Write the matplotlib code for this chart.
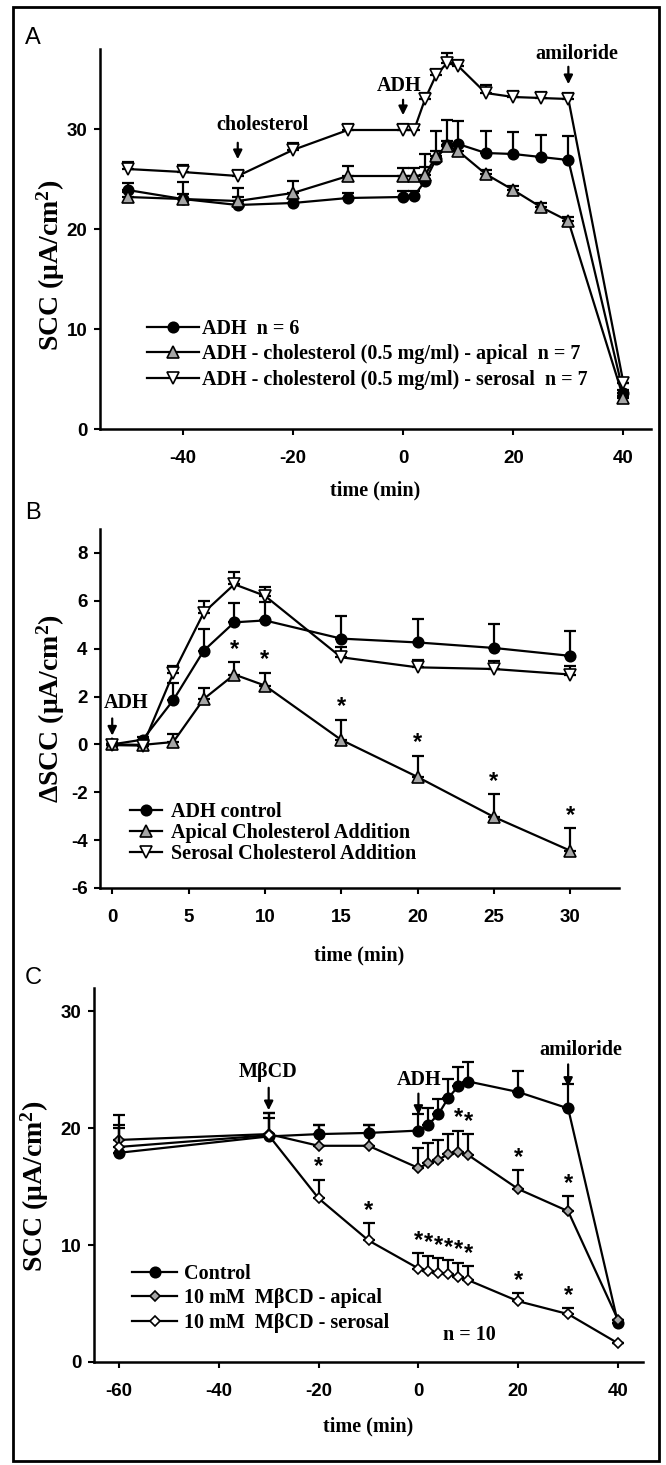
import matplotlib
matplotlib.use("Agg")
import matplotlib.pyplot as plt
from matplotlib.patches import Rectangle
from matplotlib.lines import Line2D

# ---- panel A data (SCC, uA/cm2) ----
tA = [-50, -40, -30, -20, -10, 0, 2, 4, 6, 8, 10, 15, 20, 25, 30, 40]
adhA = [23.9, 23.0, 22.4, 22.6, 23.1, 23.2, 23.3, 24.8, 27.0, 28.4, 28.5, 27.6, 27.5, 27.2, 26.9, 3.6]
adhA_err = [0.7, 1.7, 1.7, 0.5, 0.5, 0.6, 0.5, 2.7, 2.8, 2.5, 2.3, 2.2, 2.2, 2.2, 2.4, 0.3]
apiA = [23.2, 23.0, 22.8, 23.6, 25.3, 25.3, 25.3, 25.4, 27.3, 28.3, 27.8, 25.5, 23.9, 22.2, 20.8, 3.1]
apiA_err = [0.5, 0.5, 0.4, 1.2, 1.0, 0.8, 0.8, 0.8, 0.5, 0.5, 0.5, 0.4, 0.4, 0.4, 0.4, 0.2]
serA = [26.0, 25.7, 25.3, 27.9, 29.9, 29.9, 29.9, 33.0, 35.4, 36.6, 36.3, 33.6, 33.2, 33.1, 33.0, 4.6]
serA_err = [0.7, 0.7, 0.6, 0.7, 0.6, 0.6, 0.5, 0.6, 0.6, 1.0, 0.6, 0.8, 0.6, 0.6, 0.6, 0.0]

# ---- panel B data (delta SCC) ----
tB = [0, 2, 4, 6, 8, 10, 15, 20, 25, 30]
adhB = [0.0, 0.2, 1.85, 3.92, 5.1, 5.18, 4.42, 4.26, 4.03, 3.70]
adhB_err = [0.0, 0.1, 0.7, 0.92, 0.8, 0.75, 0.95, 0.98, 1.0, 1.03]
apiB = [0.0, -0.02, 0.1, 1.9, 2.92, 2.46, 0.19, -1.36, -3.03, -4.44]
apiB_err = [0.0, 0.0, 0.35, 0.46, 0.51, 0.53, 0.84, 0.89, 0.95, 0.93]
serB = [-0.03, -0.05, 2.97, 5.51, 6.69, 6.21, 3.64, 3.22, 3.15, 2.92]
serB_err = [0.0, 0.0, 0.3, 0.49, 0.53, 0.35, 0.44, 0.31, 0.32, 0.37]
starsB = [8, 10, 15, 20, 25, 30]

# ---- panel C data (SCC, MbCD) ----
tC = [-60, -30, -20, -10, 0, 2, 4, 6, 8, 10, 20, 30, 40]
ctlC = [17.9, 19.3, 19.5, 19.6, 19.8, 20.3, 21.2, 22.6, 23.6, 24.0, 23.1, 21.7, 3.3]
ctlC_err = [2.4, 2.0, 0.8, 0.7, 1.4, 1.4, 1.3, 1.6, 1.6, 1.7, 1.8, 2.1, 0.0]
apiC = [19.0, 19.5, 18.5, 18.5, 16.6, 17.0, 17.3, 17.8, 18.0, 17.7, 14.8, 12.9, 3.6]
apiC_err = [2.1, 1.8, 1.8, 1.8, 1.7, 1.7, 1.7, 1.7, 1.8, 1.8, 1.6, 1.3, 0.0]
serC = [18.4, 19.4, 14.0, 10.4, 8.0, 7.8, 7.6, 7.5, 7.3, 7.0, 5.2, 4.1, 1.6]
serC_err = [1.6, 1.5, 1.6, 1.5, 1.3, 1.3, 1.3, 1.2, 1.2, 1.2, 0.7, 0.5, 0.0]
starsC_api = [8, 10, 20, 30]
starsC_ser = [-20, -10, 0, 2, 4, 6, 8, 10, 20, 30]

SERIF = ["Liberation Serif", "DejaVu Serif"]
SANS = ["Liberation Sans", "DejaVu Sans"]
plt.rcParams["font.family"] = SANS
plt.rcParams["axes.unicode_minus"] = False
plt.rcParams["mathtext.fontset"] = "custom"
plt.rcParams["mathtext.rm"] = "Liberation Serif:bold"
plt.rcParams["mathtext.it"] = "Liberation Serif:bold"
plt.rcParams["mathtext.bf"] = "Liberation Serif:bold"

W, H = 666, 1465
fig = plt.figure(figsize=(W / 100, H / 100), dpi=100)


def add_ax(l, r, t, b):
    return fig.add_axes([l / W, 1 - b / H, (r - l) / W, (b - t) / H])


def style(ax):
    for s in ("top", "right"):
        ax.spines[s].set_visible(False)
    for s in ("left", "bottom"):
        ax.spines[s].set_linewidth(1.8)
    ax.tick_params(direction="out", length=4, width=1.5, labelsize=13.5)
    ax.tick_params(axis="x", pad=11)
    ax.tick_params(axis="y", pad=5)
    for lab in ax.get_xticklabels() + ax.get_yticklabels():
        lab.set_fontweight("bold")


def series(ax, x, y, e, marker, face, ms, z):
    low = [0] * len(e)
    ax.errorbar(x, y, yerr=[low, e], fmt="none", ecolor="k", elinewidth=1.6,
                capsize=4, capthick=1.6, zorder=z)
    ax.plot(x, y, color="k", lw=1.6, marker=marker, ms=ms, mfc=face,
            mec="k", mew=1.2, zorder=z + 0.5)


def stars(ax, xs, x, y, e):
    for xv in xs:
        i = x.index(xv)
        ax.annotate("*", (xv, y[i] + e[i]), xytext=(0, 1), textcoords="offset points",
                    ha="center", va="bottom", fontsize=17, fontweight="bold",
                    family=SANS)


def arrow(ax, x, tail, tip, label, lx, ly):
    ax.annotate("", xy=(x, tip), xytext=(x, tail),
                arrowprops=dict(arrowstyle="-|>", color="k", lw=1.6, mutation_scale=13))
    ax.text(lx, ly, label, ha="center", va="center", fontsize=14.5,
            fontweight="bold", family=SERIF)


def legend(ax, handles, labels, x, y, hl, htp, ls):
    leg = ax.legend(handles, labels, loc="upper left", bbox_to_anchor=(x, y),
                    frameon=False, borderpad=0, borderaxespad=0, handlelength=hl,
                    handletextpad=htp, labelspacing=ls,
                    prop=dict(family=SERIF, weight="bold", size=14.5))
    return leg


def h(marker, face, ms):
    return Line2D([], [], color="k", lw=1.6, marker=marker, ms=ms, mfc=face, mec="k", mew=1.2)


def ylab(ax, text, xpos, ypos):
    ax.set_ylabel(text, family=SERIF, fontweight="bold", fontsize=20)
    ax.yaxis.set_label_coords(xpos, ypos)


GRAY = "#a6a6a6"
tri = 8.5

# ---------------- A ----------------
axA = add_ax(100, 651, 49, 429)
series(axA, tA, adhA, adhA_err, "o", "k", 7.5, 2)
series(axA, tA, apiA, apiA_err, "^", GRAY, tri, 3)
series(axA, tA, serA, serA_err, "v", "white", tri, 4)
axA.set_xlim(-55, 45)
axA.set_ylim(0, 38)
axA.set_xticks([-40, -20, 0, 20, 40])
axA.set_yticks([0, 10, 20, 30])
style(axA)
axA.set_xlabel("time (min)", family=SERIF, fontweight="bold", fontsize=14.5, labelpad=10)
ylab(axA, r"SCC ($\mu$A/cm$^2$)", -0.06, 0.43)
arrow(axA, -30, 28.9, 26.7, "cholesterol", -25.5, 30.4)
arrow(axA, 0, 33.2, 31.1, "ADH", -0.8, 34.3)
arrow(axA, 30, 36.5, 34.2, "amiloride", 31.5, 37.5)
legend(axA, [h("o", "k", 7.5), h("^", GRAY, tri), h("v", "white", tri)],
       ["ADH  n = 6", "ADH - cholesterol (0.5 mg/ml) - apical  n = 7",
        "ADH - cholesterol (0.5 mg/ml) - serosal  n = 7"],
       0.085, 0.29, 2.6, 0.15, 0.28)

# ---------------- B ----------------
axB = add_ax(100, 619, 529, 888)
series(axB, tB, adhB, adhB_err, "o", "k", 7.5, 2)
series(axB, tB, apiB, apiB_err, "^", GRAY, tri, 3)
series(axB, tB, serB, serB_err, "v", "white", tri, 4)
stars(axB, starsB, tB, apiB, apiB_err)
axB.set_xlim(-0.8, 33.2)
axB.set_ylim(-6, 9)
axB.set_xticks([0, 5, 10, 15, 20, 25, 30])
axB.set_yticks([-6, -4, -2, 0, 2, 4, 6, 8])
style(axB)
axB.set_xlabel("time (min)", family=SERIF, fontweight="bold", fontsize=14.5, labelpad=14)
ylab(axB, r"$\Delta$SCC ($\mu$A/cm$^2$)", -0.064, 0.5)
arrow(axB, 0, 1.2, 0.25, "ADH", 0.9, 1.75)
legend(axB, [h("o", "k", 7.5), h("^", GRAY, tri), h("v", "white", tri)],
       ["ADH control", "Apical Cholesterol Addition", "Serosal Cholesterol Addition"],
       0.058, 0.24, 1.6, 0.45, 0.05)

# ---------------- C ----------------
axC = add_ax(94, 643, 988, 1362)
series(axC, tC, ctlC, ctlC_err, "o", "k", 7.5, 2)
series(axC, tC, apiC, apiC_err, "D", GRAY, 5.5, 3)
series(axC, tC, serC, serC_err, "D", "white", 5.5, 4)
stars(axC, starsC_api, tC, apiC, apiC_err)
stars(axC, starsC_ser, tC, serC, serC_err)
axC.set_xlim(-65, 45)
axC.set_ylim(0, 32)
axC.set_xticks([-60, -40, -20, 0, 20, 40])
axC.set_yticks([0, 10, 20, 30])
style(axC)
axC.set_xlabel("time (min)", family=SERIF, fontweight="bold", fontsize=14.5, labelpad=12)
ylab(axC, r"SCC ($\mu$A/cm$^2$)", -0.078, 0.47)
arrow(axC, -30, 23.7, 21.3, "M\u03b2CD", -30.1, 24.8)
arrow(axC, 0, 23.2, 20.9, "ADH", 0.2, 24.1)
arrow(axC, 30, 25.7, 23.3, "amiloride", 32.6, 26.7)
axC.text(10.3, 2.3, "n = 10", ha="center", va="center", fontsize=14.5,
         fontweight="bold", family=SERIF)
legend(axC, [h("o", "k", 7.5), h("D", GRAY, 5.5), h("D", "white", 5.5)],
       ["Control", "10 mM  M\u03b2CD - apical", "10 mM  M\u03b2CD - serosal"],
       0.069, 0.262, 2.25, 0.35, 0.22)

# panel letters and outer frame
for lab, y in (("A", 38), ("B", 513), ("C", 978)):
    fig.text(33 / W, 1 - y / H, lab, ha="center", va="center", fontsize=17,
             family=SANS)
fig.patches.append(Rectangle((13 / W, 4 / H), 646 / W, 1454 / H, fill=False,
                             lw=2, ec="k", transform=fig.transFigure, figure=fig))

fig.savefig("out.png", dpi=100)
